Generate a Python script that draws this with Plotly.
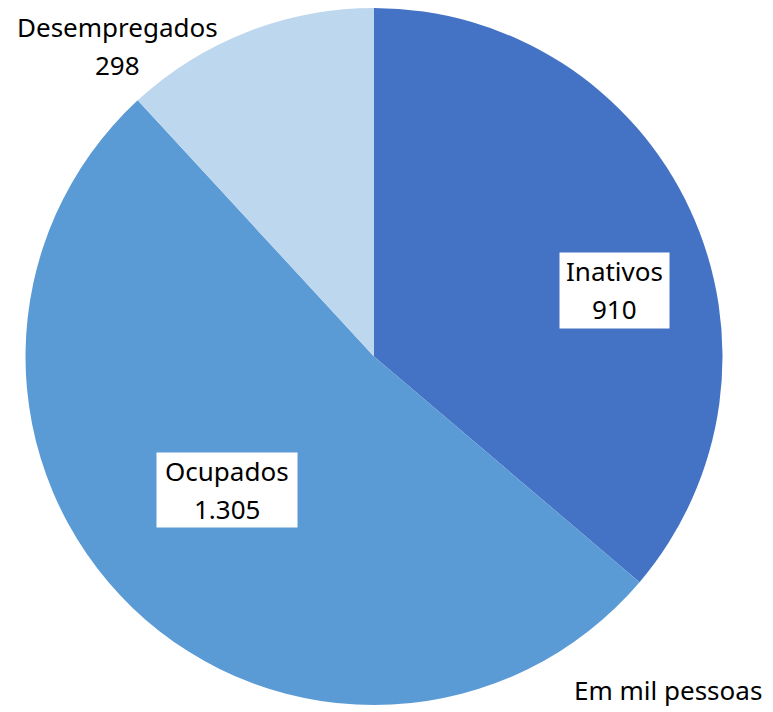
import plotly.graph_objects as go

categories = ["Inativos", "Ocupados", "Desempregados"]
values = [910, 1305, 298]
colors = ["#4472C4", "#5B9BD5", "#BDD7EE"]
unit_note = "Em mil pessoas"


def fmt(v):
    return f"{v:,}".replace(",", ".")


# page body has an 8px margin; work in reference-pixel coordinates
OFF = 8
W, H = 773 - OFF, 712 - OFF


def px2paper(px, py):
    return (px - OFF) / W, 1 - (py - OFF) / H


cx, cy, r = 374, 356, 349
x0, y0 = px2paper(cx - r, cy + r)
x1, y1 = px2paper(cx + r, cy - r)

fig = go.Figure(
    go.Pie(
        labels=categories,
        values=values,
        marker=dict(colors=colors, line=dict(width=0)),
        sort=False,
        direction="clockwise",
        rotation=0,
        textinfo="none",
        hoverinfo="label+value",
        domain=dict(x=[max(0, x0), min(1, x1)], y=[max(0, y0), min(1, y1)]),
        showlegend=False,
    )
)

FONT = dict(family="Noto Sans, Open Sans, sans-serif", size=26, color="#000000")

ann = []
label_pos = {
    "Inativos": (614, 290, 109, 75),
    "Ocupados": (227, 490, 140, 74),
    "Desempregados": (118, 46, None, None),
}
for cat, val in zip(categories, values):
    px, py, bw, bh = label_pos[cat]
    x, y = px2paper(px, py)
    common = dict(x=x, y=y, xref="paper", yref="paper", showarrow=False,
                  xanchor="center", yanchor="middle", font=FONT)
    if bw:
        ann.append(dict(common, text=" ", bgcolor="white", width=bw, height=bh,
                        borderpad=0))
    ann.append(dict(common, text=cat, yshift=19))
    ann.append(dict(common, text=fmt(val), yshift=-19))

ex, ey = px2paper(764, 690)
ann.append(dict(x=ex, y=ey, xref="paper", yref="paper", xanchor="right",
                yanchor="middle", text=unit_note, showarrow=False, font=FONT))

fig.update_layout(
    width=W, height=H,
    margin=dict(l=0, r=0, t=0, b=0),
    paper_bgcolor="white", plot_bgcolor="white",
    annotations=ann,
)

fig.write_html("out.html")
